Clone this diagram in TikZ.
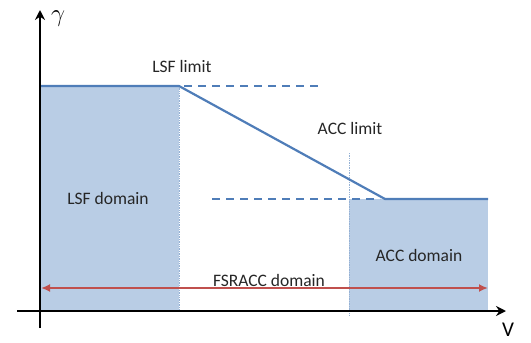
\documentclass[tikz,border=0pt]{standalone}
\usepackage{fontspec}
\setmainfont{Carlito}
\usetikzlibrary{arrows.meta}
\definecolor{domfill}{HTML}{B9CDE5}
\definecolor{limline}{HTML}{4F7DB8}
\definecolor{spanred}{HTML}{C0504D}
\tikzset{
  lbl/.style={font=\fontsize{17.5}{19}\selectfont, inner sep=0pt, text=black!85},
  limit/.style={limline, line width=2.2pt},
  guide/.style={limline, line width=2.2pt, dash pattern=on 8pt off 6pt},
  split/.style={limline!60, densely dotted, line width=0.7pt},
  axis/.style={black, line width=2pt, -{Stealth[length=10pt,width=10pt]}}
}
\begin{document}
\begin{tikzpicture}[x=1pt,y=-1pt]
        \useasboundingbox (0,0) rectangle (531,343);
        % domains
        \fill[domfill] (40,86) rectangle (179,311);
        \fill[domfill] (349,199) rectangle (488,311);
        \coordinate (lsfA) at (40,86);
        \coordinate (lsfB) at (179,86);
        \coordinate (accA) at (385,199);
        \coordinate (accB) at (488,199);
        % dotted splits
        \draw[split] (179,86) -- (179,311);
        \draw[split] (349,153) -- (349,316);
        % limits
        \draw[guide] (184,86) -- (318,86);
        \draw[guide] (212,199) -- (380,199);
        \draw[limit] (lsfA) -- (lsfB) -- (accA) -- (accB);
        % FSRACC span
        \coordinate (spanL) at (41,288);
        \coordinate (spanR) at (488,288);
        \draw[spanred, line width=2pt, {Latex[length=9pt,width=8pt]}-{Latex[length=9pt,width=8pt]}] (spanL) -- (spanR);
        % axes
        \coordinate (org) at (40,311);
        \draw[axis] (40,328) -- (40,10);
        \draw[axis] (17,311) -- (506,311);
        \node[font=\fontsize{24}{26}\selectfont] (gam) at (58,19) {$\gamma$};
        \node[font=\fontsize{21}{23}\selectfont, inner sep=0pt] (vel) at (508,330) {V};
        % labels
        \node[lbl] (lsflim) at (182,66) {LSF limit};
        \node[lbl] (acclim) at (350,128) {ACC limit};
        \node[lbl] (lsfdom) at (108,198) {LSF domain};
        \node[lbl] (accdom) at (419,255) {ACC domain};
        \node[lbl] (fsrdom) at (269,280) {FSRACC domain};
      \end{tikzpicture}
\end{document}
